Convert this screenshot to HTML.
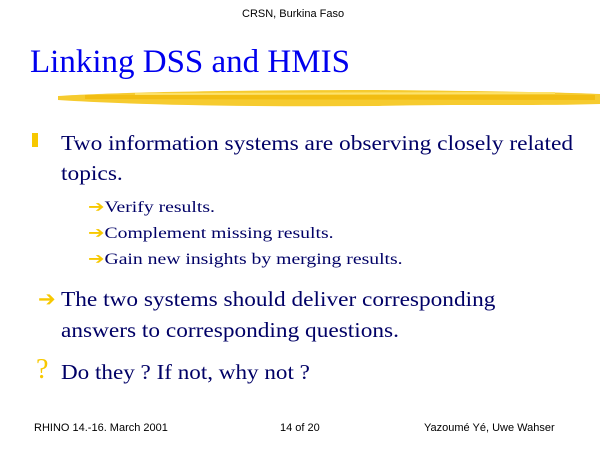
<!DOCTYPE html>
<html><head><style>
body{margin:0;width:600px;height:450px;background:#fff;position:relative;overflow:hidden;font-family:"Liberation Serif",serif;color:#000066}
.a{position:absolute;white-space:nowrap;transform-origin:0 0}
.s{font-family:"Liberation Sans",sans-serif;font-size:11px;color:#000}
.y{color:#f7c800}
</style></head><body>
<div class="a s" style="left:242px;top:8px">CRSN, Burkina Faso</div>
<div class="a" style="left:30px;top:44px;font-size:33px;color:#0000ee">Linking DSS and HMIS</div>
<svg class="a" style="left:55px;top:86px" width="545" height="26">
<path d="M3,10 C60,6 200,4 320,4 C420,5 500,6 545,8 L545,18 C480,20 400,18 320,20 C200,21 80,19 3,14 Z" fill="#f5c518" opacity="0.9"/>
<path d="M30,9 L540,9 L540,14 L30,13Z" fill="#f0b400" opacity="0.6"/>
<path d="M80,7 L500,6 L500,8 L80,9Z" fill="#fde26a"/>
</svg>
<div class="a y" style="left:32px;top:133px;width:6px;height:14px;background:#f7c800"></div>
<div class="a" style="left:61px;top:128px;font-size:21px;line-height:30px;transform:scaleX(1.115)">Two information systems are observing closely related<br>topics.</div>
<div class="a" style="left:88px;top:195px;font-size:16px;line-height:26px;transform:scaleX(1.23)"><span class="y">➔</span>Verify results.<br><span class="y">➔</span>Complement missing results.<br><span class="y">➔</span>Gain new insights by merging results.</div>
<div class="a y" style="left:38px;top:284px;font-size:21px;line-height:31px">➔</div>
<div class="a" style="left:61px;top:284px;font-size:21px;line-height:31px;transform:scaleX(1.11)">The two systems should deliver corresponding<br>answers to corresponding questions.</div>
<div class="a y" style="left:36px;top:354px;font-size:28px">?</div>
<div class="a" style="left:61px;top:360px;font-size:21px;transform:scaleX(1.1)">Do they ? If not, why not ?</div>
<div class="a s" style="left:34px;top:422px">RHINO 14.-16. March 2001</div>
<div class="a s" style="left:280px;top:422px">14 of 20</div>
<div class="a s" style="left:424px;top:422px">Yazoumé Yé, Uwe Wahser</div>
</body></html>
